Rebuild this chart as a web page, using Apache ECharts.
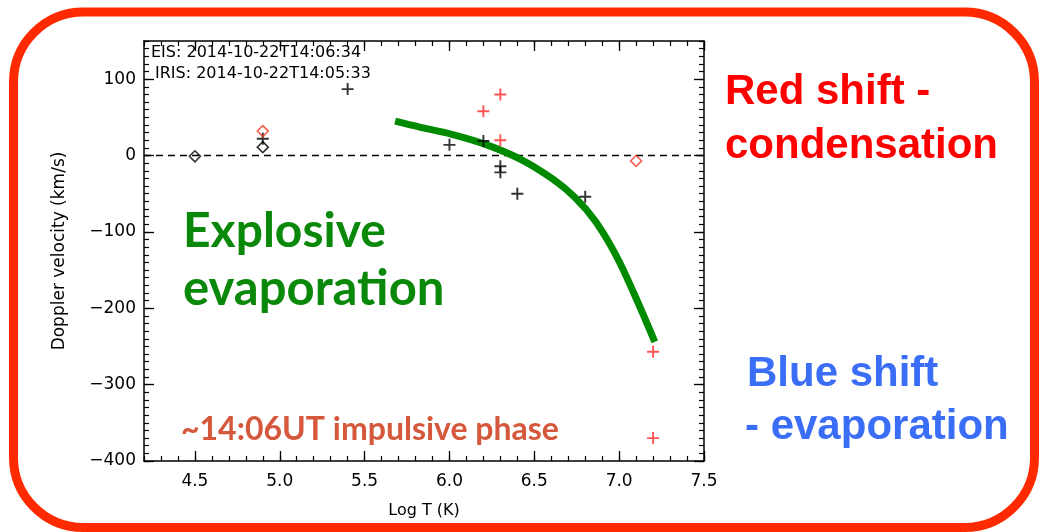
<!DOCTYPE html>
<html>
<head>
<meta charset="utf-8">
<script src="https://cdn.jsdelivr.net/npm/echarts@6/dist/echarts.min.js"></script>
<style>html,body{margin:0;padding:0;background:#fff}#c{width:1039px;height:532px}</style>
</head>
<body>
<div id="c"></div>
<script>
// ---- data ----
const xMajorTicks = [4.5, 5.0, 5.5, 6.0, 6.5, 7.0, 7.5];
const yMajorTicks = [-400, -300, -200, -100, 0, 100];
const blackPlus = [[4.9, 22], [5.4, 87], [6.0, 14], [6.2, 19], [6.3, -14], [6.3, -22], [6.4, -50], [6.8, -54]];
const redPlus = [[6.2, 58], [6.3, 80], [6.3, 20], [7.2, -257], [7.2, -370]];
const blackDiamond = [[4.5, -1], [4.9, 11]];
const redDiamond = [[4.9, 32], [7.1, -7]];
const greenCurve = [[5.68, 45], [5.83, 37], [6.02, 27.5], [6.22, 14], [6.42, -5], [6.61, -31], [6.74, -55], [6.86, -86], [6.98, -130], [7.09, -182], [7.21, -244]];
const noteLines = ['EIS: 2014-10-22T14:06:34', 'IRIS: 2014-10-22T14:05:33'];

const plusPath = 'path://M0,4.2H10V5.8H0Z M4.2,0H5.8V10H4.2Z';
const fmt = v => (Math.round(v * 10) / 10).toFixed(1);
const yfmt = v => String(v).replace('-', '\u2212');
const tickFont = {fontFamily: 'DejaVu Sans', fontSize: 17, color: '#000'};

const baseX = {type: 'value', min: 4.2, max: 7.5, splitLine: {show: false}};
const baseY = {type: 'value', min: -400, max: 150, splitLine: {show: false}};
const lineOn = {show: true, onZero: false, lineStyle: {color: '#000', width: 1.5}};
const lineOff = {show: false, onZero: false};
const majTick = vals => ({show: true, inside: true, length: 10, customValues: vals, lineStyle: {color: '#000', width: 1.3}});
const minTick = {show: true, inside: true, length: 5, lineStyle: {color: '#000', width: 1.2}};

const chart = echarts.init(document.getElementById('c'), null, {renderer: 'canvas'});
chart.setOption({
  animation: false,
  backgroundColor: '#fff',
  grid: {left: 144, right: 335, top: 41, bottom: 71, containLabel: false},
  xAxis: [
    Object.assign({}, baseX, {position: 'bottom', name: 'Log T (K)', nameLocation: 'middle', nameGap: 42,
      nameTextStyle: {fontFamily: 'DejaVu Sans', fontSize: 16, color: '#000'},
      axisLine: lineOn, axisTick: majTick(xMajorTicks),
      axisLabel: Object.assign({show: true, customValues: xMajorTicks, formatter: fmt, margin: 12}, tickFont)}),
    Object.assign({}, baseX, {position: 'bottom', interval: 0.1, axisLine: lineOff, axisTick: minTick, axisLabel: {show: false}}),
    Object.assign({}, baseX, {position: 'top', axisLine: lineOn, axisTick: majTick(xMajorTicks), axisLabel: {show: false}}),
    Object.assign({}, baseX, {position: 'top', interval: 0.1, axisLine: lineOff, axisTick: minTick, axisLabel: {show: false}})
  ],
  yAxis: [
    Object.assign({}, baseY, {position: 'left', name: 'Doppler velocity (km/s)', nameLocation: 'middle', nameGap: 76,
      nameTextStyle: {fontFamily: 'DejaVu Sans', fontSize: 17, color: '#000'},
      axisLine: lineOn, axisTick: majTick(yMajorTicks),
      axisLabel: Object.assign({show: true, customValues: yMajorTicks, formatter: yfmt, margin: 8}, tickFont)}),
    Object.assign({}, baseY, {position: 'left', interval: 10, axisLine: lineOff, axisTick: minTick, axisLabel: {show: false}}),
    Object.assign({}, baseY, {position: 'right', axisLine: lineOn, axisTick: majTick(yMajorTicks), axisLabel: {show: false}}),
    Object.assign({}, baseY, {position: 'right', interval: 10, axisLine: lineOff, axisTick: minTick, axisLabel: {show: false}})
  ],
  series: [
    {type: 'line', data: [[4.2, 0], [7.5, 0]], symbol: 'none', silent: true,
      lineStyle: {color: '#000', width: 1.5, type: [7, 5]}, z: 1},
    {type: 'line', data: greenCurve, smooth: 0.4, symbol: 'none',
      lineStyle: {color: '#008a00', width: 7, cap: 'butt'}, z: 3},
    {type: 'scatter', data: blackPlus, symbol: plusPath, symbolSize: [12, 12],
      itemStyle: {color: '#000'}, z: 4},
    {type: 'scatter', data: redPlus, symbol: plusPath, symbolSize: [12, 12],
      itemStyle: {color: '#ff2b2b'}, z: 4},
    {type: 'scatter', data: blackDiamond, symbol: 'diamond', symbolSize: [11, 11],
      itemStyle: {color: 'rgba(0,0,0,0)', borderColor: '#000', borderWidth: 1.6}, z: 4},
    {type: 'scatter', data: redDiamond, symbol: 'diamond', symbolSize: [11, 11],
      itemStyle: {color: 'rgba(0,0,0,0)', borderColor: '#f03c28', borderWidth: 1.6}, z: 4}
  ],
  graphic: [
    {type: 'rect', shape: {x: 13.5, y: 12, width: 1021, height: 515.5, r: 70}, silent: true,
      style: {fill: 'none', stroke: '#ff2a00', lineWidth: 9}, z: 0},
    {type: 'text', x: 151, y: 53, style: {text: noteLines[0], font: '16px "DejaVu Sans"', fill: '#000', verticalAlign: 'middle'}},
    {type: 'text', x: 155, y: 74, style: {text: noteLines[1], font: '16px "DejaVu Sans"', fill: '#000', verticalAlign: 'middle'}},
    {type: 'text', x: 183, y: 232, style: {text: 'Explosive', font: 'bold 48px Lato', fill: '#0a880a', verticalAlign: 'middle'}},
    {type: 'text', x: 183, y: 289, style: {text: 'evaporation', font: 'bold 49px Lato', fill: '#0a880a', verticalAlign: 'middle'}},
    {type: 'text', x: 181, y: 430, style: {text: '~14:06UT impulsive phase', font: 'bold 32px Lato', fill: '#d5583c', verticalAlign: 'middle'}},
    {type: 'text', x: 725, y: 92, style: {text: 'Red shift -', font: 'bold 42px "Liberation Sans"', fill: '#ff0000', verticalAlign: 'middle'}},
    {type: 'text', x: 725, y: 146, style: {text: 'condensation', font: 'bold 42px "Liberation Sans"', fill: '#ff0000', verticalAlign: 'middle'}},
    {type: 'text', x: 747, y: 374, style: {text: 'Blue shift', font: 'bold 42px "Liberation Sans"', fill: '#3b6ef7', verticalAlign: 'middle'}},
    {type: 'text', x: 745, y: 427, style: {text: '- evaporation', font: 'bold 42px "Liberation Sans"', fill: '#3b6ef7', verticalAlign: 'middle'}}
  ]
});
</script>
</body>
</html>
